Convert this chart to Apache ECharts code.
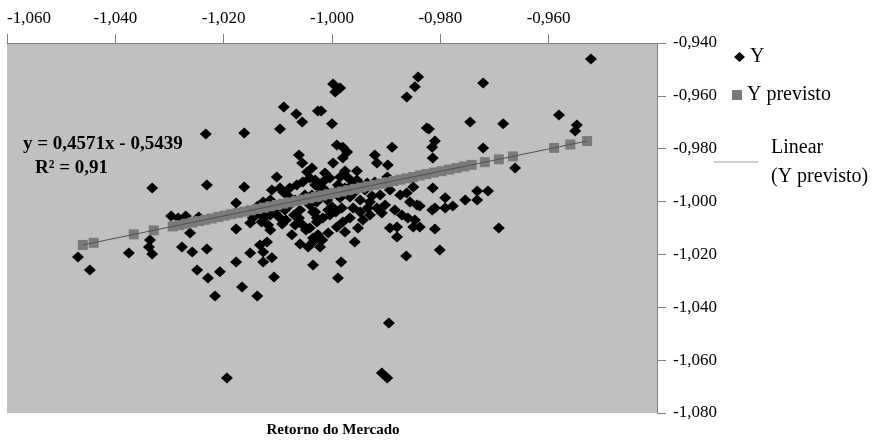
<!DOCTYPE html>
<html>
<head>
<meta charset="utf-8">
<script src="https://cdn.jsdelivr.net/npm/echarts@6/dist/echarts.min.js"></script>
<style>html,body{margin:0;padding:0;background:#fff}#c{width:876px;height:440px}</style>
</head>
<body>
<div id="c"></div>
<script>
// Retorno do Mercado (x) for the observed points
const xY = [-1.0469,-1.0447,-1.0375,-1.0336,-1.0338,-1.0332,-1.0332,-1.0297,-1.0284,-1.0270,
-1.0246,-1.0262,-1.0277,-1.0258,-1.0233,-1.0231,-1.0231,-1.0249,-1.0229,-1.0207,
-1.0216,-1.0194,-1.0177,-1.0177,-1.0177,-1.0166,-1.0138,-1.0151,-1.0162,-1.0162,
-1.0096,-1.0089,-1.0066,-1.0055,-1.0026,-1.0107,-1.0127,-1.0111,-1.0133,-1.0120,
-1.0127,-1.0114,-1.0151,-1.0146,-1.0074,-1.0059,-1.0061,-1.0054,-1.0041,-1.0035,
-1.0044,-1.0035,-1.0061,-1.0055,-1.0037,-1.0102,-1.0111,-1.0096,-1.0090,-1.0078,
-1.0065,-1.0054,-1.0041,-1.0031,-1.0046,-1.0041,-1.0035,-1.0028,-1.0127,-1.0114,
-1.0142,-1.0133,-1.0124,-1.0114,-1.0105,-1.0096,-1.0087,-1.0137,-1.0078,-1.0068,
-1.0081,-1.0050,-1.0059,-1.0048,-1.0026,-1.0068,-1.0092,-1.0103,-0.9998,-0.9985,
-0.9994,-0.9841,-0.9847,-0.9862,-1.0020,-1.0000,-0.9825,-0.9991,-0.9980,-0.9972,
-0.9980,-0.9921,-0.9917,-0.9897,-0.9889,-0.9998,-1.0013,-0.9976,-0.9954,-1.0000,
-0.9982,-0.9961,-0.9911,-0.9874,-0.9862,-0.9850,-0.9856,-0.9843,-0.9860,-0.9847,
-0.9850,-0.9893,-0.9880,-0.9880,-0.9917,-0.9908,-0.9902,-0.9943,-0.9930,-0.9934,
-0.9952,-0.9958,-0.9980,-0.9976,-0.9991,-1.0017,-1.0028,-1.0007,-1.0026,-1.0035,
-1.0007,-1.0022,-0.9983,-0.9989,-0.9863,-0.9895,-0.9908,-0.9898,-1.0031,-1.0017,
-1.0004,-0.9985,-0.9970,-0.9954,-0.9935,-0.9921,-0.9898,-1.0028,-1.0009,-0.9985,
-0.9967,-0.9948,-0.9930,-1.0013,-0.9994,-0.9976,-0.9958,-0.9939,-1.0004,-0.9967,
-0.9884,-0.9893,-0.9721,-0.9745,-0.9684,-0.9821,-0.9810,-0.9815,-0.9814,-0.9721,
-0.9662,-0.9814,-0.9791,-0.9838,-0.9810,-0.9815,-0.9791,-0.9777,-0.9754,-0.9732,
-0.9712,-0.9732,-0.9810,-0.9692,-0.9801,-0.9838,-0.9522,-0.9581,-0.9548,-0.9551,
-1.0130,-1.0118,-1.0085,-1.0070,-1.0037,-1.0022,-0.9989,-0.9963,-0.9945,-1.0018,
-1.0031,-0.9993,-0.9926,-0.9871,-0.9948];
// Y (observed)
const yY = [-1.0210,-1.0259,-1.0195,-1.0145,-1.0172,-1.0198,-0.9949,-1.0055,-1.0062,-1.0055,
-1.0058,-1.0119,-1.0172,-1.0191,-0.9744,-0.9937,-1.0179,-1.0259,-1.0289,-1.0266,
-1.0357,-1.0668,-1.0005,-1.0104,-1.0229,-1.0323,-1.0357,-1.0195,-0.9741,-0.9945,
-0.9725,-0.9642,-0.9669,-0.9699,-0.9657,-1.0285,-1.0229,-1.0213,-1.0164,-1.0153,
-1.0191,-1.0108,-1.0081,-1.0062,-1.0126,-1.0161,-1.0062,-1.0089,-1.0100,-1.0138,
-1.0172,-1.0240,-0.9824,-0.9854,-0.9873,-0.9907,-0.9956,-0.9949,-0.9964,-0.9949,
-0.9937,-0.9926,-0.9911,-0.9937,-0.9888,-1.0013,-1.0039,-1.0062,-1.0002,-0.9994,
-1.0039,-1.0047,-1.0058,-1.0051,-1.0043,-1.0062,-1.0032,-1.0017,-1.0013,-0.9994,
-0.9979,-0.9975,-1.0032,-1.0108,-0.9975,-1.0089,-1.0085,-1.0024,-0.9555,-0.9570,
-0.9585,-0.9529,-0.9566,-0.9604,-0.9657,-0.9706,-0.9722,-0.9786,-0.9794,-0.9812,
-0.9835,-0.9824,-0.9854,-0.9862,-0.9794,-0.9854,-0.9892,-0.9884,-0.9884,-1.0020,
-1.0024,-1.0024,-0.9975,-0.9975,-0.9968,-0.9945,-1.0002,-1.0013,-1.0062,-1.0070,
-1.0096,-1.0100,-1.0096,-1.0134,-1.0024,-1.0043,-1.0013,-1.0070,-1.0051,-1.0024,
-1.0100,-1.0153,-1.0077,-1.0115,-1.0096,-1.0062,-1.0077,-1.0032,-1.0126,-1.0153,
-1.0119,-1.0172,-1.0229,-1.0289,-1.0206,-1.0459,-1.0649,-1.0668,-0.9918,-0.9926,
-0.9911,-0.9907,-0.9911,-0.9918,-0.9930,-0.9926,-0.9907,-1.0002,-0.9994,-0.9986,
-0.9983,-0.9994,-1.0002,-0.9956,-0.9964,-0.9949,-0.9964,-0.9956,-1.0051,-1.0062,
-1.0032,-0.9956,-0.9551,-0.9699,-0.9706,-0.9725,-0.9771,-0.9794,-0.9835,-0.9797,
-0.9873,-0.9949,-0.9986,-1.0017,-1.0024,-1.0032,-1.0024,-1.0017,-0.9994,-0.9960,
-0.9960,-0.9994,-1.0104,-1.0100,-1.0183,-1.0096,-0.9461,-0.9672,-0.9710,-0.9733,
-1.0077,-1.0089,-1.0070,-1.0051,-0.9975,-0.9949,-0.9937,-0.9937,-0.9941,-1.0145,
-1.0039,-1.0039,-0.9979,-1.0051,-1.0039];
// Y previsto
const xPrev = [-1.0460,-1.0440,-1.0366,-1.0329,-1.0294,-1.0282,-1.0270,-1.0258,-1.0246,-1.0234,
-1.0222,-1.0210,-1.0198,-1.0186,-1.0174,-1.0162,-1.0150,-1.0138,-1.0126,-1.0114,
-1.0102,-1.0090,-1.0078,-1.0066,-1.0054,-1.0042,-1.0030,-1.0018,-1.0006,-0.9994,
-0.9982,-0.9970,-0.9958,-0.9946,-0.9934,-0.9922,-0.9910,-0.9898,-0.9886,-0.9874,
-0.9862,-0.9850,-0.9838,-0.9826,-0.9812,-0.9798,-0.9784,-0.9770,-0.9756,-0.9742,
-0.9718,-0.9692,-0.9666,-0.9590,-0.9560,-0.9529];
const yPrev = [-1.0164,-1.0156,-1.0124,-1.0109,-1.0094,-1.0089,-1.0084,-1.0079,-1.0074,-1.0069,
-1.0064,-1.0058,-1.0053,-1.0048,-1.0043,-1.0038,-1.0033,-1.0028,-1.0023,-1.0018,
-1.0013,-1.0008,-1.0003,-0.9998,-0.9993,-0.9988,-0.9983,-0.9977,-0.9972,-0.9967,
-0.9962,-0.9957,-0.9952,-0.9947,-0.9942,-0.9937,-0.9932,-0.9927,-0.9922,-0.9917,
-0.9912,-0.9907,-0.9901,-0.9896,-0.9890,-0.9885,-0.9879,-0.9873,-0.9867,-0.9861,
-0.9851,-0.9840,-0.9829,-0.9797,-0.9784,-0.9771];
// Linear (Y previsto) trendline end points
const trendX = [-1.0460, -0.9529];
const trendY = [-1.0164, -0.9771];

const serif = 'Liberation Serif';
const fmt = v => v.toFixed(3).replace('.', ',');
const zip = (a, b) => a.map((v, i) => [v, b[i]]);

const chart = echarts.init(document.getElementById('c'), null, {renderer: 'canvas'});
chart.setOption({
  animation: false,
  backgroundColor: '#ffffff',
  grid: {left: 7, right: 219, top: 43, bottom: 27, show: true, backgroundColor: '#c0c0c0', borderWidth: 0},
  xAxis: {
    type: 'value', position: 'top', min: -1.06, max: -0.94, interval: 0.02,
    axisLine: {show: true, onZero: false, lineStyle: {color: '#808080', width: 1}},
    axisTick: {show: true, length: 9, lineStyle: {color: '#808080'}},
    splitLine: {show: false},
    axisLabel: {formatter: fmt, showMaxLabel: false, alignMinLabel: 'left', margin: 16,
      fontFamily: serif, fontSize: 17, color: '#000'}
  },
  yAxis: {
    type: 'value', position: 'right', min: -1.08, max: -0.94, interval: 0.02,
    axisLine: {show: true, onZero: false, lineStyle: {color: '#808080', width: 1}},
    axisTick: {show: true, length: 9, lineStyle: {color: '#808080'}},
    splitLine: {show: false},
    axisLabel: {formatter: fmt, margin: 16, fontFamily: serif, fontSize: 17, color: '#000'}
  },
  legend: [
    {data: ['Y'], left: 729, top: 42, orient: 'vertical', icon: 'diamond', itemWidth: 11, itemHeight: 10, itemGap: 4,
      textStyle: {fontFamily: serif, fontSize: 20, color: '#000'}},
    {data: ['Y previsto'], left: 727, top: 80, orient: 'vertical', icon: 'rect', itemWidth: 10, itemHeight: 10,
      textStyle: {fontFamily: serif, fontSize: 20, color: '#000'}},
    {data: ['Linear (Y previsto)'], left: 709, top: 128, orient: 'vertical', icon: 'rect', itemWidth: 44, itemHeight: 1,
      itemStyle: {color: '#a0a0a0'},
      formatter: () => 'Linear\n(Y previsto)',
      textStyle: {fontFamily: serif, fontSize: 20, color: '#000', lineHeight: 29, padding: [0, 0, 0, 8]}}
  ],
  series: [
    {name: 'Y', type: 'scatter', data: zip(xY, yY), symbol: 'diamond', symbolSize: [12, 11],
      itemStyle: {color: '#000000', opacity: 1}, z: 2},
    {name: 'Y previsto', type: 'scatter', data: zip(xPrev, yPrev), symbol: 'rect', symbolSize: 10,
      itemStyle: {color: '#7a7a7a', opacity: 1}, z: 3},
    {name: 'Linear (Y previsto)', type: 'line', data: zip(trendX, trendY), symbol: 'none',
      lineStyle: {color: '#505050', width: 1}, itemStyle: {color: '#a0a0a0'}, z: 4}
  ],
  graphic: [
    {type: 'text', left: 23, top: 135, z: 10, style: {text: 'y = 0,4571x - 0,5439', fill: '#000', font: 'bold 19px "Liberation Serif"'}},
    {type: 'text', left: 35, top: 159, z: 10, style: {text: 'R² = 0,91', fill: '#000', font: 'bold 19px "Liberation Serif"'}},
    {type: 'text', x: 333, y: 430, z: 10, style: {text: 'Retorno do Mercado', fill: '#000', font: 'bold 15px "Liberation Serif"', align: 'center', verticalAlign: 'middle'}}
  ]
});
</script>
</body>
</html>
